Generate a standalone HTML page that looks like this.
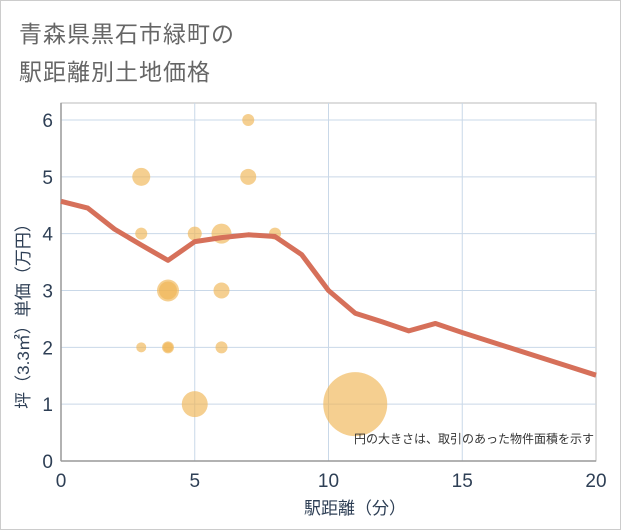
<!DOCTYPE html>
<html><head><meta charset="utf-8"><style>
body{margin:0;background:#fff;font-family:"Liberation Sans","Noto Sans CJK JP",sans-serif}
#wrap{position:relative;width:619px;height:528px;border:1px solid #ccc;background:#fff}
.t{position:absolute;left:18px;font-size:23px;color:#666;letter-spacing:1px}
</style></head><body>
<div id="wrap">
<div class="t" style="top:14px">青森県黒石市緑町の</div>
<div class="t" style="top:52px">駅距離別土地価格</div>
<svg id="svg" width="621" height="530" style="position:absolute;left:-1px;top:-1px"></svg>
</div>
<script>
const xTicks=[0,5,10,15,20];
const yTicks=[0,1,2,3,4,5,6];
const bubbleX=[3,3,3,4,4,4,4,5,5,6,6,6,7,7,8,11];
const bubbleY=[5,4,2,3,3,2,2,4,1,4,3,2,6,5,4,1];
const bubbleR=[9,6,5,11,9,6,5,7,13,10,8,6,6,8,6,32];
const lineX=[0,1,2,3,4,5,6,7,8,9,10,11,12,13,14,15,16,17,18,19,20];
const lineY=[4.57,4.45,4.08,3.8,3.53,3.86,3.93,3.98,3.95,3.63,3.0,2.6,2.45,2.29,2.42,2.26,2.11,1.96,1.81,1.66,1.51];
const L=61,R=596,T=103,B=461;
const sx=v=>L+(R-L)*v/20, sy=v=>B-(B-120)*v/6;
const svg=document.getElementById('svg');const NS='http://www.w3.org/2000/svg';
const tc='#2e3f55';
function mk(t,a,txt){const e=document.createElementNS(NS,t);for(const k in a)e.setAttribute(k,a[k]);if(txt!=null)e.textContent=txt;svg.appendChild(e);return e;}
let e=mk('rect',{x:L,y:T,width:R-L,height:B-T,fill:'#fff',stroke:'#bbb'});

yTicks.forEach(v=>{if(v>0){e=mk('line',{x1:L,x2:R,y1:sy(v),y2:sy(v),stroke:'#c9d8e8'});}
e=mk('text',{x:L-8,y:sy(v)+7,'text-anchor':'end','font-size':19,fill:tc},v);});
xTicks.forEach(v=>{if(v>0&&v<20){e=mk('line',{x1:sx(v),x2:sx(v),y1:T,y2:B,stroke:'#c9d8e8'});}
e=mk('text',{x:sx(v),y:B+26,'text-anchor':'middle','font-size':19,fill:tc},v);});
e=mk('line',{x1:L,x2:R,y1:B,y2:B,stroke:'#999','stroke-width':1.5});
e=mk('line',{x1:L,x2:L,y1:T,y2:B,stroke:'#999','stroke-width':1.5});
bubbleX.forEach((x,i)=>{e=mk('circle',{cx:sx(x),cy:sy(bubbleY[i]),r:bubbleR[i],fill:'#f0b655','fill-opacity':0.65});});
e=mk('polyline',{points:lineX.map((x,i)=>sx(x)+','+sy(lineY[i])).join(' '),fill:'none',stroke:'#d6705a','stroke-width':5,'stroke-linejoin':'round'});

e=mk('text',{x:594,y:443,'text-anchor':'end','font-size':12,fill:'#333'},'円の大きさは、取引のあった物件面積を示す');
e=mk('text',{x:355,y:514,'text-anchor':'middle','font-size':17,fill:tc},'駅距離（分）');
e=mk('text',{x:0,y:0,'text-anchor':'middle','font-size':17,fill:tc,transform:'translate(29,312) rotate(-90)'},'坪（3.3㎡）単価（万円）');
</script>
</body></html>
